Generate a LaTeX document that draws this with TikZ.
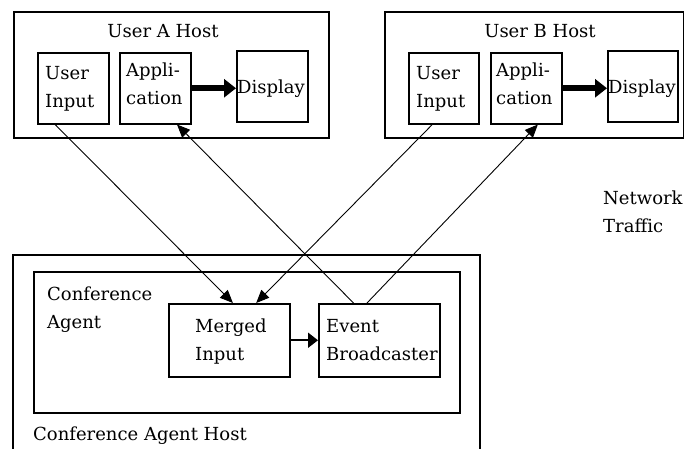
\documentclass[tikz,border=0pt]{standalone}
\usepackage{fontspec}
\setmainfont{DejaVu Serif}
\usetikzlibrary{arrows.meta,calc}
\begin{document}
\begin{tikzpicture}[x=1pt,y=-1pt,
  box/.style={draw,line width=1.5pt,inner sep=0pt,anchor=north west},
  txt/.style={anchor=base west,inner sep=0pt,align=left,font=\fontsize{18}{27.5}\selectfont},
  ttl/.style={anchor=base,inner sep=0pt,font=\fontsize{18}{27.5}\selectfont},
  net/.style={line width=0.9pt,-{Triangle[length=13pt,width=11pt]}},
  fat/.style={line width=6pt,-{Triangle[length=12pt,width=18pt]}},
  mid/.style={line width=1.8pt,-{Triangle[length=10pt,width=15pt]}}
]
\useasboundingbox (0,0) rectangle (684,448);
% User A host
\node[box,minimum width=315pt,minimum height=126pt] (hostA) at (13,11) {};
\node[box,minimum width=71pt,minimum height=71pt] (uiA) at (37,52) {};
\node[box,minimum width=71pt,minimum height=71pt] (apA) at (119,52) {};
\node[box,minimum width=71pt,minimum height=71pt] (dpA) at (236,50) {};
\node[ttl] (tA) at (163,37) {User A Host};
\node[txt] (tuiA) at (45,107) {User\\Input};
\node[txt] (tapA) at (126,104) {Appli-\\cation};
\node[txt] (tdpA) at (237,93) {Display};
% User B host
\node[box,minimum width=299pt,minimum height=126pt] (hostB) at (384,11) {};
\node[box,minimum width=70pt,minimum height=71pt] (uiB) at (408,52) {};
\node[box,minimum width=71pt,minimum height=71pt] (apB) at (490,52) {};
\node[box,minimum width=70pt,minimum height=71pt] (dpB) at (607,50) {};
\node[ttl] (tB) at (540,37) {User B Host};
\node[txt] (tuiB) at (416,107) {User\\Input};
\node[txt] (tapB) at (496,104) {Appli-\\cation};
\node[txt] (tdpB) at (608,93) {Display};
% Conference agent host
\draw[line width=1.5pt] (13,450) -- (13,255) -- (480,255) -- (480,450);
\node[box,minimum width=426pt,minimum height=141pt] (agent) at (33,271) {};
\node[box,minimum width=121pt,minimum height=73pt] (merged) at (168,303) {};
\node[box,minimum width=121pt,minimum height=73pt] (event) at (318,303) {};
\node[txt] (tagent) at (47,328) {Conference\\Agent};
\node[txt] (tmerged) at (195,360) {Merged\\Input};
\node[txt] (tevent) at (326,360) {Event\\Broadcaster};
\node[txt] (thost) at (33,440) {Conference Agent Host};
\node[txt] (tnet) at (603,232) {Network\\Traffic};
% arrows inside hosts
\draw[fat] (apA.east) -- (apA.east -| dpA.west);
\draw[fat] (apB.east) -- (apB.east -| dpB.west);
\draw[mid] (merged.east) -- (event.west);
% network traffic
\draw[net] ($(uiA.south west)!0.25!(uiA.south east)$) -- ($(merged.north west)!0.53!(merged.north east)$);
\draw[net] ($(event.north west)!0.29!(event.north east)$) -- ($(apA.south west)!0.80!(apA.south east)$);
\draw[net] ($(uiB.south west)!0.34!(uiB.south east)$) -- ($(merged.north west)!0.72!(merged.north east)$);
\draw[net] ($(event.north west)!0.40!(event.north east)$) -- ($(apB.south west)!0.66!(apB.south east)$);
\end{tikzpicture}
\end{document}
